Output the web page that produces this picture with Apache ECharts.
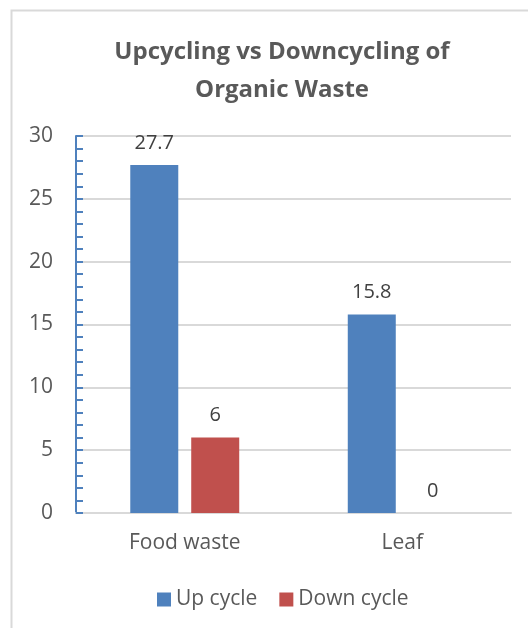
<!DOCTYPE html>
<html>
<head>
<meta charset="utf-8">
<script src="https://cdn.jsdelivr.net/npm/echarts@6/dist/echarts.min.js"></script>
<style>html,body{margin:0;padding:0;background:#fff}#c{width:528px;height:628px}</style>
</head>
<body>
<div id="c"></div>
<script>
const titleText = 'Upcycling vs Downcycling of\nOrganic Waste';
const categories = ['Food waste', 'Leaf'];
const seriesNames = ['Up cycle', 'Down cycle'];
const upCycle = [27.7, 15.8];
const downCycle = [6, 0];
const yTicks = [0, 5, 10, 15, 20, 25, 30];

const FONT = '"Open Sans", "Liberation Sans", sans-serif';
const TXT = '#595959';
const chart = echarts.init(document.getElementById('c'), null, {renderer: 'canvas'});
const labelCfg = {show: true, position: 'top', distance: 12, color: '#404040', fontSize: 20, fontFamily: FONT};
chart.setOption({
  animation: false,
  backgroundColor: '#fff',
  graphic: [{
    type: 'rect', silent: true,
    shape: {x: 11.5, y: 10.5, width: 600, height: 700},
    style: {fill: 'none', stroke: '#D9D9D9', lineWidth: 2}
  }],
  title: {
    text: titleText, left: 277, top: 28, textAlign: 'center',
    textStyle: {fontFamily: FONT, fontWeight: 'bold', fontSize: 24, color: TXT, lineHeight: 38, align: 'center'}
  },
  legend: {
    data: seriesNames, bottom: 13, left: 152,
    itemWidth: 14, itemHeight: 14, itemGap: 22, icon: 'rect',
    textStyle: {fontFamily: FONT, fontSize: 21, color: TXT}
  },
  grid: {left: 76, right: 17, top: 136, bottom: 115, containLabel: false},
  xAxis: {
    type: 'category', data: categories,
    axisLine: {lineStyle: {color: '#D9D9D9', width: 2}},
    axisTick: {show: false},
    axisLabel: {margin: 20, fontFamily: FONT, fontSize: 21, color: TXT}
  },
  yAxis: {
    type: 'value', min: yTicks[0], max: yTicks[yTicks.length - 1], interval: 5,
    axisLine: {show: true, lineStyle: {color: '#4F81BD', width: 2}},
    axisTick: {show: true, inside: true, length: 7, lineStyle: {color: '#4F81BD', width: 2}},
    minorTick: {show: true, splitNumber: 5, length: 7, lineStyle: {color: '#4F81BD', width: 2}},
    splitLine: {lineStyle: {color: '#D9D9D9', width: 2}},
    axisLabel: {margin: 23, fontFamily: FONT, fontSize: 21, color: TXT}
  },
  series: [
    {name: seriesNames[0], type: 'bar', data: upCycle, barWidth: 48, barGap: '27%',
     itemStyle: {color: '#4F81BD'}, label: labelCfg},
    {name: seriesNames[1], type: 'bar', data: downCycle, barWidth: 48,
     itemStyle: {color: '#C0504D'}, label: labelCfg}
  ]
});
</script>
</body>
</html>
